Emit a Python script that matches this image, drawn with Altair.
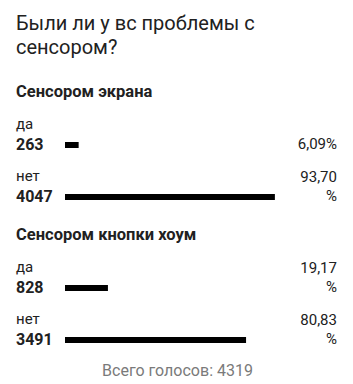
import altair as alt
import pandas as pd

# ---- data ----
question = ["Были ли у вс проблемы с", "сенсором?"]
groups = ["Сенсором экрана", "Сенсором кнопки хоум"]
answers = ["да", "нет"]
counts = [[263, 4047], [828, 3491]]
percents = [[6.09, 93.70], [19.17, 80.83]]
total_votes = 4319

FONT = "Roboto"
INK = "#212121"
W = 321
STEP = 52


def pct_lines(p):
    s = f"{p:.2f}".replace(".", ",") + "%"
    if len(s) <= 5:
        return "", s
    return s[:-1], "%"


def panel(gi, footer=None):
    l1, l2 = zip(*[pct_lines(p) for p in percents[gi]])
    df = pd.DataFrame({
        "answer": answers,
        "count": counts[gi],
        "pct": percents[gi],
        "line1": l1,
        "line2": l2,
    })
    yenc = alt.Y("answer:N", sort=answers,
                 scale=alt.Scale(domain=answers, paddingInner=0, paddingOuter=0),
                 axis=None)
    base = alt.Chart(df).encode(y=yenc)
    if footer:
        xaxis = alt.Axis(title=footer, labels=False, ticks=False, domain=False,
                         grid=False, titleFontSize=16, titleColor="#7a7a7a",
                         titleFontWeight="normal", titleFont=FONT,
                         titleBaseline="alphabetic", titlePadding=9)
    else:
        xaxis = None
    bars = base.mark_bar(size=6, color="#000000").encode(
        x=alt.X("pct:Q", scale=alt.Scale(domain=[0, 100], range=[49, 273]),
                axis=xaxis)
    )
    txt = dict(font=FONT, color=INK, baseline="alphabetic")
    label = base.mark_text(align="left", dy=-16, fontSize=15, **txt).encode(
        x=alt.value(0), text="answer:N")
    count = base.mark_text(align="left", dy=5, fontSize=16, fontWeight="bold",
                           **txt).encode(
        x=alt.value(0), text=alt.Text("count:Q", format="d"))
    pct2 = base.mark_text(align="right", dy=4, fontSize=15, **txt).encode(
        x=alt.value(W), text="line2:N")
    pct1 = base.mark_text(align="right", dy=-15, fontSize=15, **txt).encode(
        x=alt.value(W), text="line1:N")
    return alt.layer(bars, label, count, pct2, pct1).properties(
        width=W, height=STEP * len(answers),
        title=alt.TitleParams(groups[gi], anchor="start", fontSize=16.5,
                              fontWeight="bold", font=FONT, color=INK,
                              baseline="alphabetic", offset=4),
    )


chart = alt.vconcat(
    panel(0),
    panel(1, footer=f"Всего голосов: {total_votes}"),
    spacing=3,
).properties(
    title=alt.TitleParams(question, anchor="start", fontSize=20,
                          fontWeight="normal", font=FONT, color=INK,
                          lineHeight=24, offset=26),
    padding={"left": 16, "top": 13, "right": 16, "bottom": 4},
).configure_view(stroke=None)

chart.save("out.html", embed_options={"renderer": "svg", "actions": False})
